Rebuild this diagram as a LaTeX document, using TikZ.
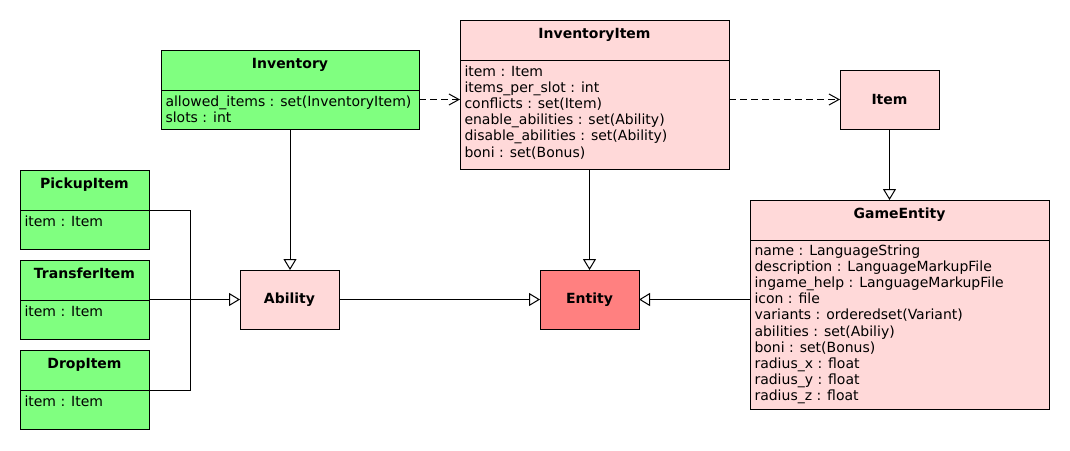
\documentclass[tikz,border=0pt]{standalone}
\usepackage{fontspec}
\setmainfont{DejaVu Sans}
\usetikzlibrary{positioning,arrows.meta}
\definecolor{classgreen}{RGB}{128,255,128}
\definecolor{classpink}{RGB}{255,217,217}
\definecolor{classred}{RGB}{255,128,128}
\begin{document}
\begin{tikzpicture}[x=1pt,y=-1pt,line width=1pt,font=\fontsize{14}{16.2}\selectfont,
    classbox/.style={draw, outer sep=0pt, inner sep=0pt},
    title/.style={font=\fontsize{14}{16.2}\selectfont\bfseries, inner sep=0pt, text height=10pt, text depth=3pt},
    attrs/.style={align=left, inner sep=0pt},
    inherit/.style={-{Triangle[open,length=11pt,width=13pt]}},
    uses/.style={dash pattern=on 7pt off 4pt, -{Straight Barb[length=10pt,width=11pt]}}]
      \useasboundingbox (0,0) rectangle (1070,450);
      \node (inventory) at (290,89.5)      [classbox, fill=classgreen, minimum width=258pt, minimum height=79pt] {};
      \node (inventorytitle)               [title, below=8pt of inventory.north] {Inventory};
      \node (inventoryattrs)               [attrs, below right=45pt and 4pt of inventory.north west] {allowed\_items : set(InventoryItem)\\slots : int};
      \draw ([yshift=-40pt]inventory.north west) -- ([yshift=-40pt]inventory.north east);

      \node (inventoryitem) at (594.5,94.5) [classbox, fill=classpink, minimum width=269pt, minimum height=149pt] {};
      \node (inventoryitemtitle)           [title, below=8pt of inventoryitem.north] {InventoryItem};
      \node (inventoryitemattrs)           [attrs, below right=45pt and 4pt of inventoryitem.north west] {item : Item\\items\_per\_slot : int\\conflicts : set(Item)\\enable\_abilities : set(Ability)\\disable\_abilities : set(Ability)\\boni : set(Bonus)};
      \draw ([yshift=-40pt]inventoryitem.north west) -- ([yshift=-40pt]inventoryitem.north east);

      \node (item) at (889.5,99.5)         [classbox, fill=classpink, minimum width=99pt, minimum height=59pt, font=\fontsize{14}{16.2}\selectfont\bfseries] {Item};

      \node (gameentity) at (899.5,304.5)  [classbox, fill=classpink, minimum width=299pt, minimum height=209pt] {};
      \node (gameentitytitle)              [title, below=8pt of gameentity.north] {GameEntity};
      \node (gameentityattrs)              [attrs, below right=44pt and 4pt of gameentity.north west] {name : LanguageString\\description : LanguageMarkupFile\\ingame\_help : LanguageMarkupFile\\icon : file\\variants : orderedset(Variant)\\abilities : set(Abiliy)\\boni : set(Bonus)\\radius\_x : float\\radius\_y : float\\radius\_z : float};
      \draw ([yshift=-40pt]gameentity.north west) -- ([yshift=-40pt]gameentity.north east);

      \node (entity) at (589.5,299.5)      [classbox, fill=classred, minimum width=99pt, minimum height=59pt, font=\fontsize{14}{16.2}\selectfont\bfseries] {Entity};
      \node (ability) at (289.5,299.5)     [classbox, fill=classpink, minimum width=99pt, minimum height=59pt, font=\fontsize{14}{16.2}\selectfont\bfseries] {Ability};

      \node (pickup) at (84.5,209.5)       [classbox, fill=classgreen, minimum width=129pt, minimum height=79pt] {};
      \node (pickuptitle)                  [title, below=8pt of pickup.north] {PickupItem};
      \node (pickupattrs)                  [attrs, below right=45pt and 4pt of pickup.north west] {item : Item};
      \draw ([yshift=-40pt]pickup.north west) -- ([yshift=-40pt]pickup.north east);

      \node (transfer) at (84.5,299.5)     [classbox, fill=classgreen, minimum width=129pt, minimum height=79pt] {};
      \node (transfertitle)                [title, below=8pt of transfer.north] {TransferItem};
      \node (transferattrs)                [attrs, below right=45pt and 4pt of transfer.north west] {item : Item};
      \draw ([yshift=-40pt]transfer.north west) -- ([yshift=-40pt]transfer.north east);

      \node (drop) at (84.5,389.5)         [classbox, fill=classgreen, minimum width=129pt, minimum height=79pt] {};
      \node (droptitle)                    [title, below=8pt of drop.north] {DropItem};
      \node (dropattrs)                    [attrs, below right=45pt and 4pt of drop.north west] {item : Item};
      \draw ([yshift=-40pt]drop.north west) -- ([yshift=-40pt]drop.north east);

      \coordinate (itemjoin) at (190,299.5);
      \draw ([yshift=-40pt]pickup.north east) -| (itemjoin);
      \draw ([yshift=-40pt]drop.north east) -| (itemjoin);
      \draw[inherit] (ability.west -| transfer.east) -- (ability.west);
      \draw[inherit] (inventory.south) -- (inventory.south |- ability.north);
      \draw[inherit] (entity.north |- inventoryitem.south) -- (entity.north);
      \draw[inherit] (item.south) -- (item.south |- gameentity.north);
      \draw[inherit] (gameentity.west |- entity.east) -- (entity.east);
      \draw[inherit] (ability) -- (entity);
      \draw[uses] (inventory.east |- item.west) -- (inventoryitem.west |- item.west);
      \draw[uses] (inventoryitem.east |- item.west) -- (item.west);
    \end{tikzpicture}
\end{document}
